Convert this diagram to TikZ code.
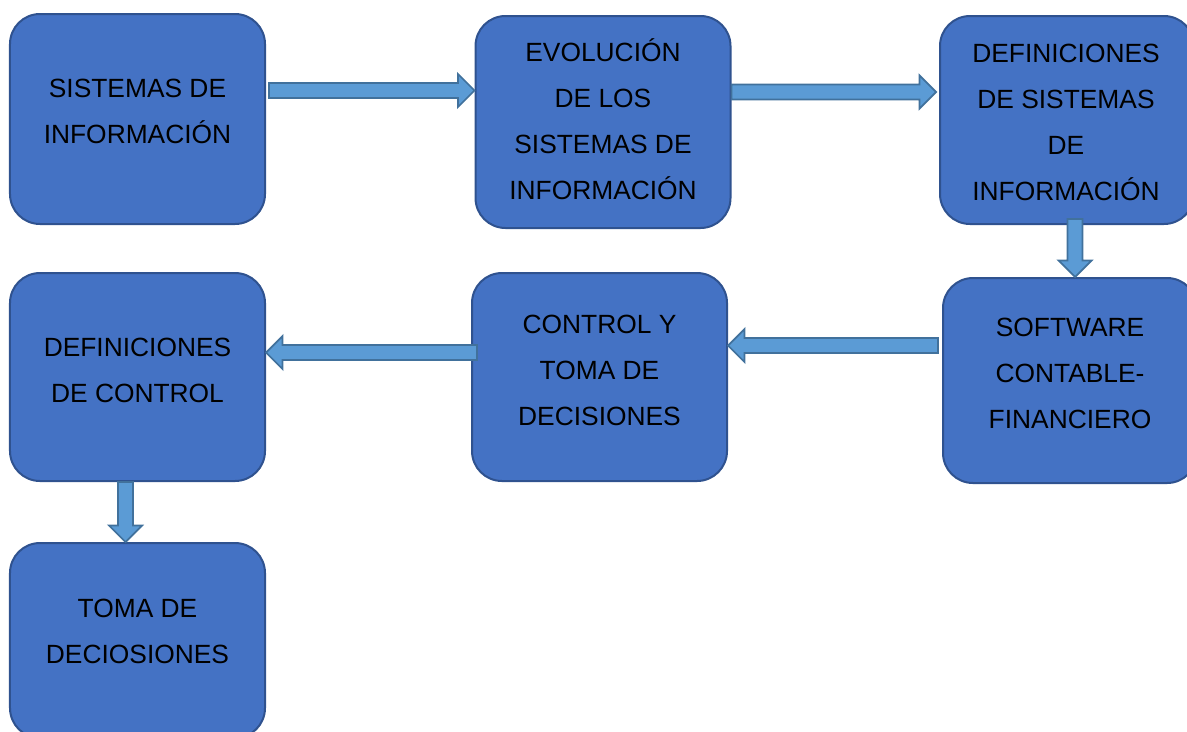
\documentclass[tikz,border=0pt]{standalone}
\usepackage{fontspec}
\setmainfont{Liberation Sans}
\usepackage{tikz}
\usetikzlibrary{calc}

\definecolor{boxfill}{HTML}{4472C4}
\definecolor{boxline}{HTML}{2F528F}
\definecolor{arrowfill}{HTML}{5B9BD5}
\definecolor{arrowline}{HTML}{41719C}

\begin{document}
\begin{tikzpicture}[x=0.2mm, y=-0.2mm,
  box/.style={draw=boxline, fill=boxfill, line width=0.4mm, rounded corners=6mm,
    minimum width=51mm, inner sep=0pt},
  txt/.style={align=center, font=\fontsize{15}{26.2}\selectfont, inner sep=0pt},
  fatarrow/.style={draw=arrowline, fill=arrowfill, line width=0.35mm, line join=miter,
    to path={let \p1=($(\tikztotarget)-(\tikztostart)$), \n1={atan2(\y1,\x1)},
      \n2={veclen(\x1,\y1)-3.3mm} in
      ($(\tikztostart)+(\n1+90:1.5mm)$) -- ($(\tikztostart)+(\n1:\n2)+(\n1+90:1.5mm)$)
      -- ($(\tikztostart)+(\n1:\n2)+(\n1+90:3.3mm)$) -- (\tikztotarget)
      -- ($(\tikztostart)+(\n1:\n2)+(\n1-90:3.3mm)$) -- ($(\tikztostart)+(\n1:\n2)+(\n1-90:1.5mm)$)
      -- ($(\tikztostart)+(\n1-90:1.5mm)$) -- cycle}}]

\clip (0,0) rectangle (1187,731);

% First row
\node[box, minimum height=42mm] (sis) at (137.5,119) {};
\node[box, minimum height=42.4mm] (evo) at (603,122) {};
\node[box, minimum height=41.6mm, minimum width=50.8mm] (defsis) at (1067,120) {};

% Second row
\node[box, minimum height=41mm, minimum width=50.8mm] (soft) at (1070,380.5) {};
\node[box, minimum height=41.6mm] (ctrl) at (599.5,377) {};
\node[box, minimum height=41.6mm] (defctrl) at (137.5,377) {};

% Last box
\node[box, minimum height=39mm] (toma) at (137.5,640.5) {};

% Texts
\node[txt] (sis-t) at (137.5,111) {SISTEMAS DE\\INFORMACIÓN};
\node[txt] (evo-t) at (603,119.5) {EVOLUCIÓN\\DE LOS\\SISTEMAS DE\\INFORMACIÓN};
\node[txt] (defsis-t) at (1066,122) {DEFINICIONES\\DE SISTEMAS\\DE\\INFORMACIÓN};
\node[txt] (soft-t) at (1070,373) {SOFTWARE\\CONTABLE-\\FINANCIERO};
\node[txt] (ctrl-t) at (599.5,370) {CONTROL Y\\TOMA DE\\DECISIONES};
\node[txt] (defctrl-t) at (137.5,370) {DEFINICIONES\\DE CONTROL};
\node[txt] (toma-t) at (137.5,631) {TOMA DE\\DECIOSIONES};

% Arrows
\draw[fatarrow] ([xshift=0.6mm, yshift=5.7mm]sis.east) to ([yshift=5.7mm]sis.east -| evo.west);
\draw[fatarrow] ([yshift=6mm]evo.east) to ([xshift=-0.6mm, yshift=6mm]evo.east -| defsis.west);
\draw[fatarrow] ([xshift=1.6mm, yshift=1.2mm]defsis.south) to ([xshift=1.6mm]soft.north -| defsis.south);
\draw[fatarrow] ([xshift=-0.8mm, yshift=7mm]soft.west) to ([yshift=7mm]soft.west -| ctrl.east);
\draw[fatarrow] ([xshift=1.2mm, yshift=4.9mm]ctrl.west) to ([yshift=4.9mm]ctrl.west -| defctrl.east);
\draw[fatarrow] ([xshift=-2.4mm]defctrl.south) to ([xshift=-2.4mm]toma.north -| defctrl.south);

\end{tikzpicture}
\end{document}
